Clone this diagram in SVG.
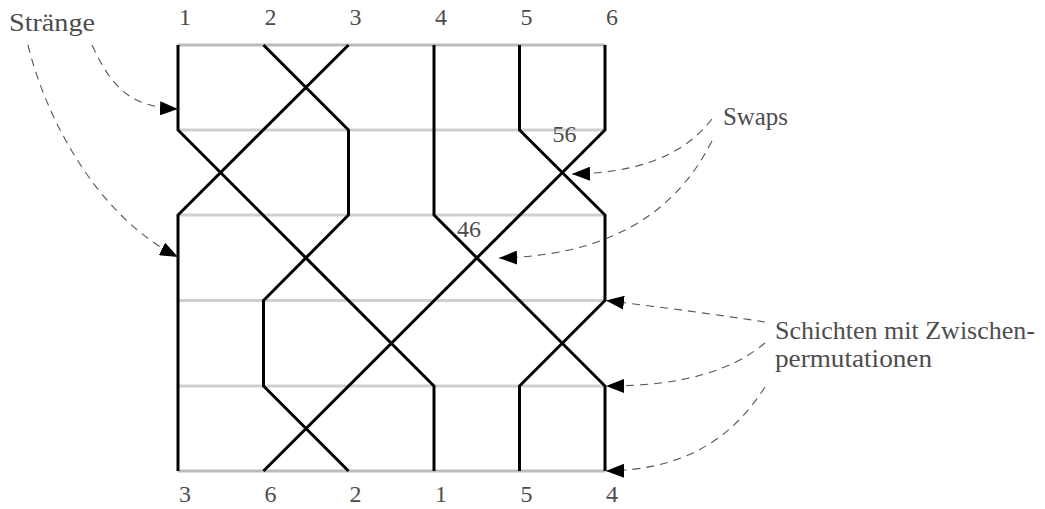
<svg xmlns="http://www.w3.org/2000/svg" width="1045" height="509" viewBox="0 0 1045 509">
<style>
.lbl{font-family:"Liberation Serif","DejaVu Serif",serif;font-size:25px;fill:#4d4d4d}
.num{font-family:"Liberation Serif","DejaVu Serif",serif;font-size:24px;fill:#4d4d4d;text-anchor:middle}
.layer{stroke:#cfcfcf;stroke-width:3;fill:none}
.edge{stroke:#bcbcbc;stroke-width:3;fill:none}
.strand{stroke:#000;stroke-width:3;fill:none;stroke-linejoin:miter}
.ann{stroke:#555;stroke-width:1.1;fill:none;stroke-dasharray:8 6;marker-end:url(#ah)}
</style>
<defs>
<marker id="ah" markerUnits="userSpaceOnUse" markerWidth="19" markerHeight="14" refX="18" refY="7" orient="auto">
<path d="M0,0 L18,7 L0,14 z" fill="#000"/>
</marker>
</defs>
<g id="layers">
<line class="edge" x1="178" y1="45" x2="605" y2="45"/>
<line class="layer" x1="178" y1="130" x2="605" y2="130"/>
<line class="layer" x1="178" y1="215" x2="605" y2="215"/>
<line class="layer" x1="178" y1="300.5" x2="605" y2="300.5"/>
<line class="layer" x1="178" y1="386" x2="605" y2="386"/>
<line class="edge" x1="178" y1="471" x2="605" y2="471"/>
</g>
<g id="strands">
<path id="strand1" class="strand" d="M178,45 V130 L434,386 V471"/>
<path id="strand2" class="strand" d="M263.5,45 L348.5,130 V215 L263.5,300.5 V386 L348.5,471"/>
<path id="strand3" class="strand" d="M348.5,45 L178,215 V471"/>
<path id="strand4" class="strand" d="M434,45 V215 L605,386 V471"/>
<path id="strand5" class="strand" d="M519.5,45 V130 L605,215 V300.5 L519.5,386 V471"/>
<path id="strand6" class="strand" d="M605,45 V130 L263.5,471"/>
</g>
<g id="top-labels">
<text class="num" x="185" y="25">1</text>
<text class="num" x="270.5" y="25">2</text>
<text class="num" x="355.5" y="25">3</text>
<text class="num" x="441" y="25">4</text>
<text class="num" x="526.5" y="25">5</text>
<text class="num" x="612" y="25">6</text>
</g>
<g id="bottom-labels">
<text class="num" x="185" y="502">3</text>
<text class="num" x="270.5" y="502">6</text>
<text class="num" x="355.5" y="502">2</text>
<text class="num" x="441" y="502">1</text>
<text class="num" x="526.5" y="502">5</text>
<text class="num" x="612" y="502">4</text>
</g>
<g id="swap-labels">
<text class="num" x="564.5" y="142">56</text>
<text class="num" x="469" y="237">46</text>
</g>
<g id="node-straenge"><text class="lbl" x="9" y="31" textLength="86" lengthAdjust="spacingAndGlyphs">Stränge</text></g>
<g id="node-swaps"><text class="lbl" x="723" y="125" textLength="65" lengthAdjust="spacingAndGlyphs">Swaps</text></g>
<g id="node-schichten">
<text class="lbl" x="775" y="339" textLength="260" lengthAdjust="spacingAndGlyphs">Schichten mit Zwischen-</text>
<text class="lbl" x="775" y="367" textLength="157" lengthAdjust="spacingAndGlyphs">permutationen</text>
</g>
<g id="connectors">
<path class="ann" d="M92,45 C112,88 130,107 178,109"/>
<path class="ann" d="M28,45 C45,115 95,215 178,257"/>
<path class="ann" d="M712,119 C680,160 630,173 572,174"/>
<path class="ann" d="M712,141 C672,220 600,256 499,258"/>
<path class="ann" d="M765,322 C720,315 660,307 606,300.5"/>
<path class="ann" d="M765,343 C730,372 680,386 606,386"/>
<path class="ann" d="M765,387 C730,442 680,470 606,471"/>
</g>
</svg>
